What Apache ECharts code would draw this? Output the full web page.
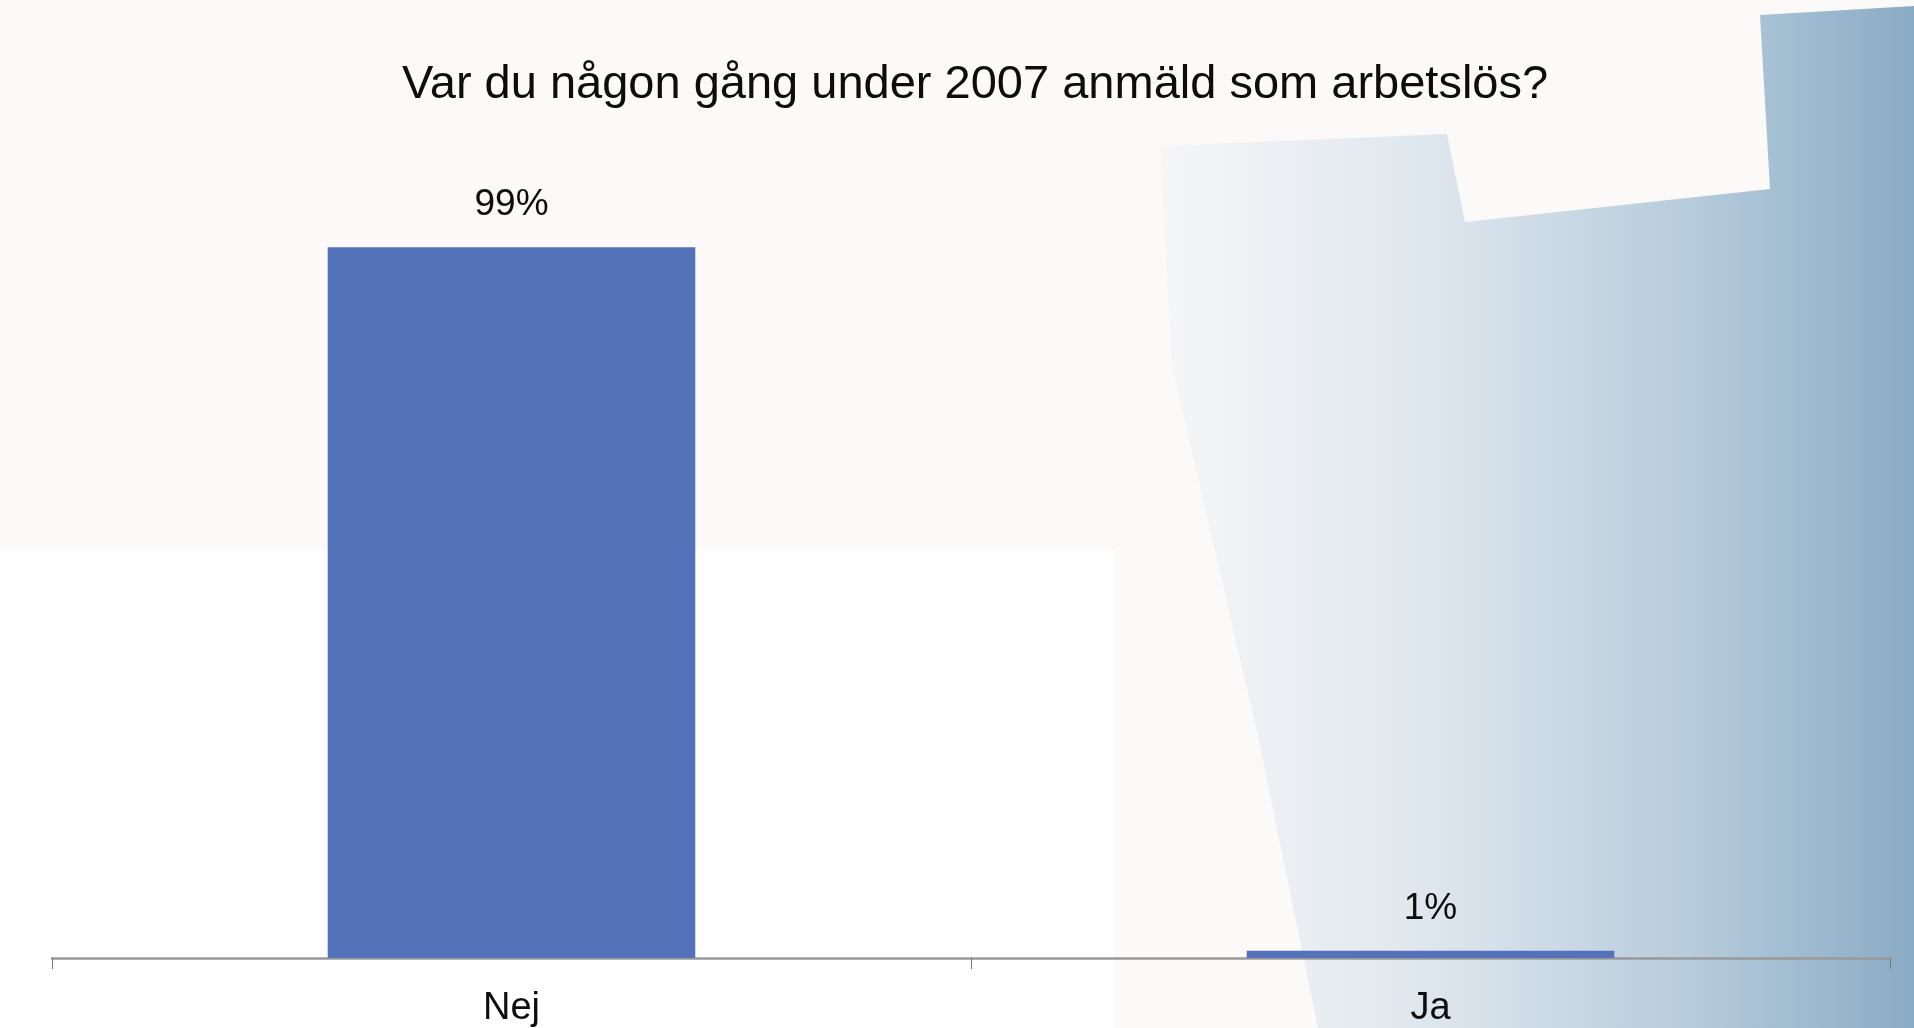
<!DOCTYPE html>
<html>
<head>
<meta charset="utf-8">
<title>Var du någon gång under 2007 anmäld som arbetslös?</title>
<script src="https://cdn.jsdelivr.net/npm/echarts@6/dist/echarts.min.js"></script>
<style>
html,body{margin:0;padding:0;background:#fbfaf8;}
#main{width:1914px;height:1028px;}
</style>
</head>
<body>
<div id="main"></div>
<script>
// data
var titleText = 'Var du någon gång under 2007 anmäld som arbetslös?';
var categories = ['Nej', 'Ja'];
var values = [99, 1];

var myChart = echarts.init(document.getElementById('main'));
var option = {
    backgroundColor: '#fbfaf8',
    textStyle: { fontFamily: 'Liberation Sans, Arial, sans-serif' },
    title: {
        text: titleText,
        left: 970,
        textAlign: 'center',
        top: 57,
        textStyle: { fontSize: 47, fontWeight: 'normal', color: '#0d0d0d' }
    },
    // decorative backdrop
    graphic: [
        {
            type: 'rect', z: -20, silent: true,
            shape: { x: 0, y: 550, width: 1114, height: 478 },
            style: { fill: '#ffffff' }
        },
        {
            type: 'polygon', z: -10, silent: true,
            shape: {
                points: [[1160, 146], [1447, 134], [1465, 222], [1770, 189], [1760, 15],
                         [1914, 6], [1914, 1028], [1318, 1028], [1257, 732], [1172, 366]]
            },
            style: {
                fill: new echarts.graphic.LinearGradient(0, 0, 1, 0, [
                    { offset: 0, color: '#f6f6f7' },
                    { offset: 0.35, color: '#dfe7ee' },
                    { offset: 0.7, color: '#b7ccdc' },
                    { offset: 1, color: '#8aabc5' }
                ])
            }
        }
    ],
    grid: { left: 52, right: 24, top: 240, bottom: 69 },
    xAxis: {
        type: 'category',
        data: categories,
        axisLine: { lineStyle: { color: '#999', width: 2.5 } },
        axisTick: { show: true, length: 11, lineStyle: { color: '#777', width: 1 } },
        axisLabel: { fontSize: 38, color: '#0d0d0d', margin: 32 }
    },
    yAxis: {
        type: 'value',
        min: 0,
        max: 100,
        show: false,
        splitLine: { show: false }
    },
    series: [
        {
            type: 'bar',
            data: values,
            barWidth: '40%',
            itemStyle: { color: '#5472b9' },
            label: {
                show: true,
                position: 'top',
                distance: 24,
                fontSize: 37,
                color: '#0d0d0d',
                formatter: '{c}%'
            }
        }
    ]
};
myChart.setOption(option);
</script>
</body>
</html>
